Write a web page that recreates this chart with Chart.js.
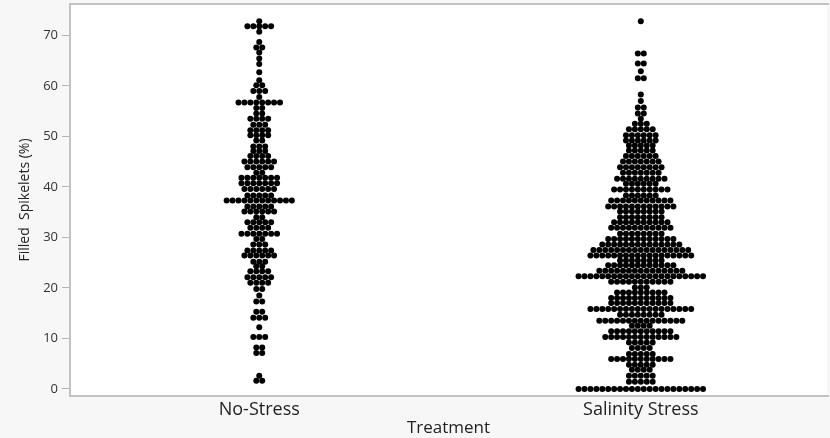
<!DOCTYPE html>
<html>
<head>
<meta charset="utf-8">
<script src="https://cdn.jsdelivr.net/npm/chart.js@4.4.1/dist/chart.umd.min.js"></script>
<style>
  html, body { margin: 0; padding: 0; background: #f7f7f7; }
  #wrap { width: 830px; height: 438px; }
</style>
</head>
<body>
<div id="wrap"><canvas id="c" width="830" height="438"></canvas></div>
<script>
// ---- data ----
const categories = ['No-Stress', 'Salinity Stress'];
const yTickValues = [0, 10, 20, 30, 40, 50, 60, 70];

// row levels (Filled Spikelets %) and number of dots in each row
const noStressLevels = [72.8, 71.8, 70.7, 68.7, 67.6, 66.6, 65.4, 64.3, 62.7, 61.1,
  60.1, 59.0, 57.8, 56.7, 55.6, 54.5, 53.5, 52.3, 51.2, 50.2,
  49.2, 48.0, 47.1, 46.1, 45.0, 43.9, 42.8, 41.8, 40.7, 39.6,
  38.3, 37.3, 36.1, 35.1, 34.0, 33.0, 31.9, 30.7, 29.7, 28.6,
  27.4, 26.4, 25.2, 24.3, 23.3, 22.1, 21.0, 19.8, 18.5, 17.3,
  15.3, 14.1, 12.2, 10.3, 8.2, 7.1, 2.6, 1.6];
const noStressCounts = [1, 5, 1, 1, 2, 1, 1, 1, 1, 1,
  2, 3, 1, 8, 2, 2, 4, 3, 4, 4,
  2, 3, 3, 4, 6, 5, 2, 7, 7, 6,
  5, 12, 5, 6, 2, 5, 4, 7, 2, 3,
  5, 6, 3, 2, 4, 5, 4, 2, 1, 2,
  2, 3, 1, 3, 2, 2, 1, 2];

const salinityLevels = [72.8, 66.4, 64.4, 62.9, 61.5, 58.3, 57.0, 55.7, 54.5, 53.5,
  52.5, 51.4, 50.2, 49.2, 48.2, 47.2, 46.1, 45.0, 43.9, 42.8,
  41.6, 40.6, 39.5, 38.3, 37.3, 36.1, 35.1, 34.0, 33.0, 31.9,
  30.7, 29.7, 28.6, 27.5, 26.4, 25.4, 24.5, 23.4, 22.3, 21.2,
  20.1, 19.1, 18.0, 17.0, 15.8, 14.7, 13.5, 12.5, 11.4, 10.3,
  9.2, 8.1, 6.9, 5.9, 4.8, 3.8, 2.6, 1.4, 0.0];
const salinityCounts = [1, 2, 2, 1, 2, 1, 1, 2, 2, 1,
  3, 5, 6, 6, 5, 5, 6, 7, 8, 7,
  9, 6, 10, 6, 11, 12, 8, 8, 10, 11,
  8, 12, 14, 17, 18, 8, 12, 15, 22, 11,
  3, 9, 11, 11, 18, 8, 15, 4, 11, 13,
  5, 4, 5, 11, 5, 4, 5, 5, 22];

// ---- layout helpers ----
const X_MIN = 0.504, X_MAX = 2.488;
const DOT_STEP = 5.95 / 383;   // horizontal spacing between dots, in x-axis units

function swarm(levels, counts, xc) {
  const pts = [];
  levels.forEach((v, i) => {
    const n = counts[i];
    for (let k = 0; k < n; k++) {
      pts.push({ x: xc + (k - (n - 1) / 2) * DOT_STEP, y: v });
    }
  });
  return pts;
}

const frame = {
  id: 'frame',
  beforeDraw(chart) {
    const { ctx, chartArea: a } = chart;
    ctx.save();
    ctx.fillStyle = '#f7f7f7';
    ctx.fillRect(0, 0, chart.width, chart.height);
    ctx.fillStyle = '#ffffff';
    ctx.fillRect(a.left, a.top, a.right - a.left, a.bottom - a.top);
    ctx.restore();
  },
  afterDraw(chart) {
    const { ctx, chartArea: a } = chart;
    ctx.save();
    ctx.strokeStyle = '#c2c2c2';
    ctx.lineWidth = 2;
    ctx.beginPath();
    ctx.moveTo(a.right + 2, a.top);
    ctx.lineTo(a.left, a.top);
    ctx.lineTo(a.left, a.bottom);
    ctx.lineTo(a.right + 2, a.bottom);
    ctx.stroke();
    ctx.restore();
  }
};

const FONT = "'Open Sans', 'Noto Sans', sans-serif";

new Chart(document.getElementById('c'), {
  type: 'scatter',
  data: {
    datasets: [
      { label: categories[0], data: swarm(noStressLevels, noStressCounts, 1) },
      { label: categories[1], data: swarm(salinityLevels, salinityCounts, 2) }
    ].map(d => Object.assign(d, {
      pointRadius: 3,
      pointHoverRadius: 3,
      pointBackgroundColor: '#000000',
      pointBorderWidth: 0,
      clip: false
    }))
  },
  options: {
    responsive: false,
    animation: false,
    devicePixelRatio: 1,
    layout: { padding: { top: 4, left: 0, right: 0, bottom: 0 } },
    plugins: { legend: { display: false }, tooltip: { enabled: false } },
    scales: {
      x: {
        type: 'linear',
        min: X_MIN,
        max: X_MAX,
        afterBuildTicks: s => { s.ticks = categories.map((c, i) => ({ value: i + 1 })); },
        afterFit: s => { s.height = 42; s.paddingLeft = 0; s.paddingRight = 0; },
        grid: { display: false },
        border: { display: false },
        ticks: {
          callback: v => categories[v - 1],
          padding: -5,
          color: '#222',
          maxRotation: 0,
          font: { family: FONT, size: 18 }
        },
        title: {
          display: true,
          text: 'Treatment',
          color: '#222',
          font: { family: FONT, size: 17 },
          padding: { top: 0, bottom: 0 }
        }
      },
      y: {
        min: -1.4,
        max: 76.2,
        afterBuildTicks: s => { s.ticks = yTickValues.map(v => ({ value: v })); },
        afterFit: s => { s.width = 70; s.paddingTop = 0; s.paddingBottom = 0; },
        grid: { drawOnChartArea: false, drawTicks: true, tickLength: 8, tickColor: '#b5b5b5', tickWidth: 1 },
        border: { display: false },
        ticks: {
          padding: 4,
          color: '#333',
          font: { family: FONT, size: 13 }
        },
        title: {
          display: true,
          text: 'Filled  Spikelets (%)',
          color: '#222',
          font: { family: FONT, size: 14 },
          padding: { top: 17, bottom: 0 }
        }
      }
    }
  },
  plugins: [frame]
});
</script>
</body>
</html>
